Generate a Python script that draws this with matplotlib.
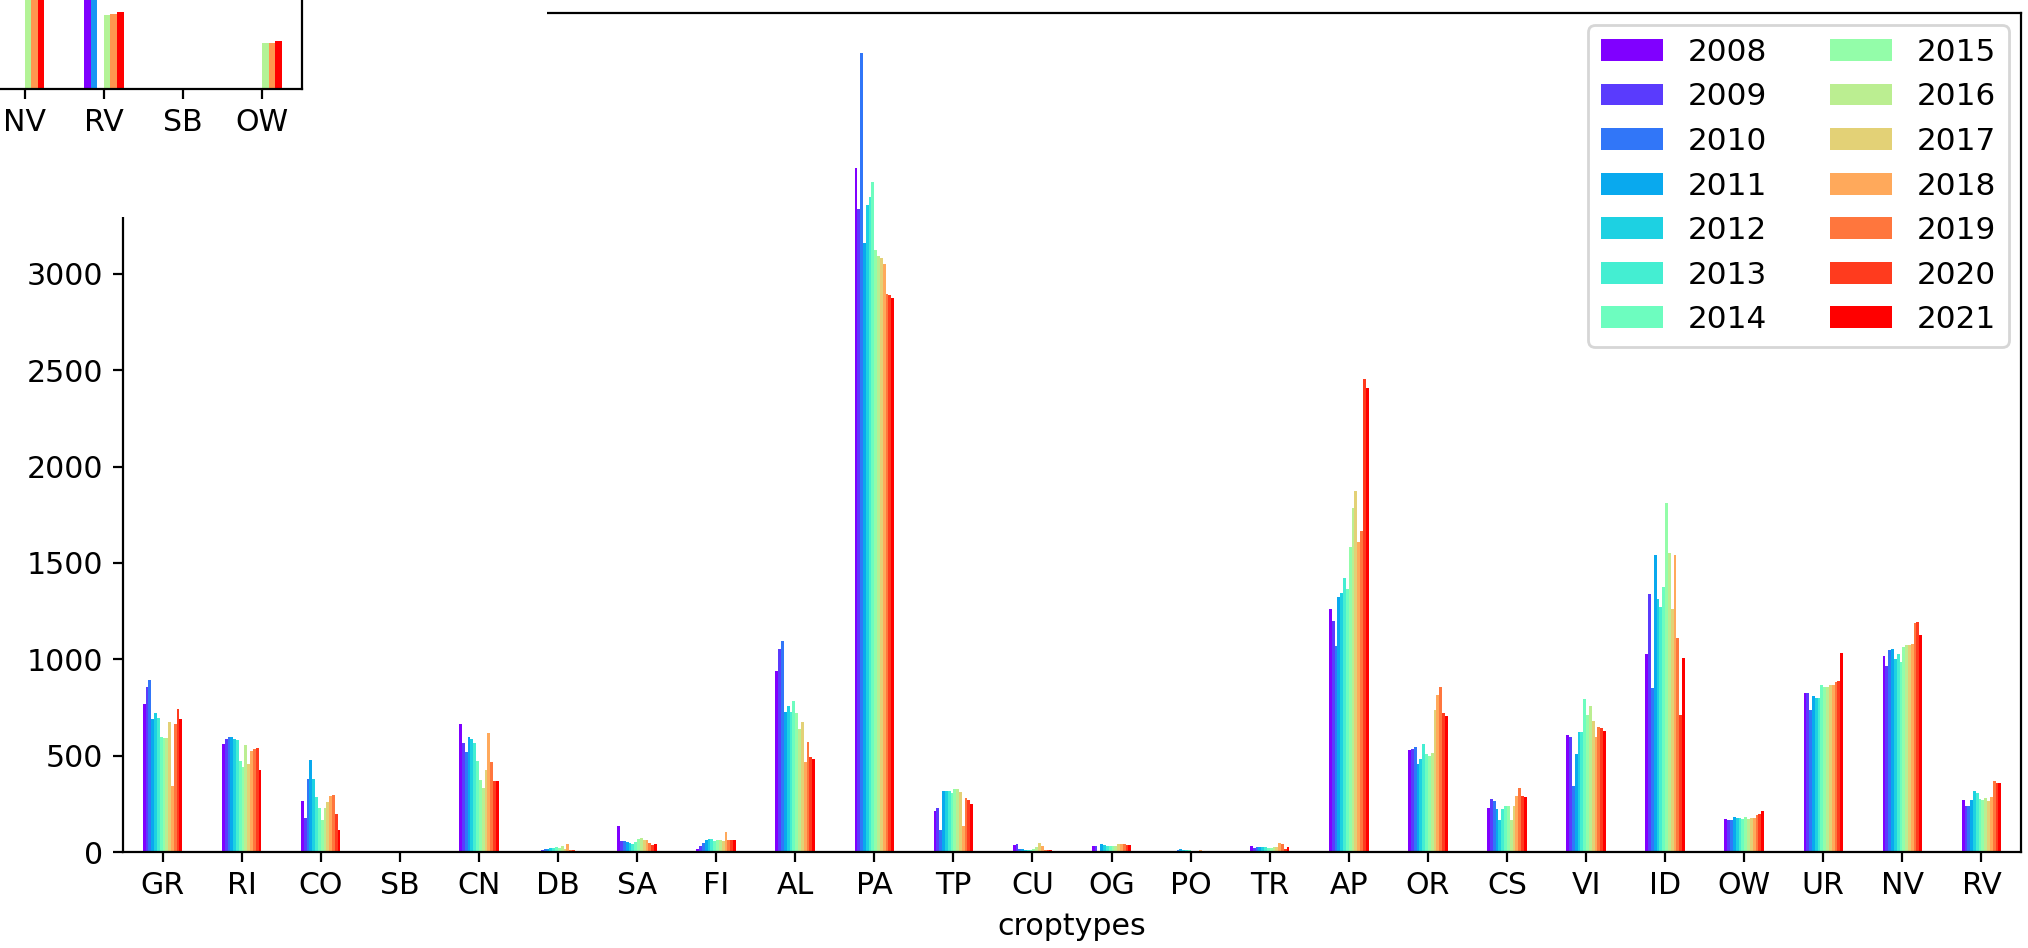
import matplotlib
matplotlib.use('Agg')
import matplotlib.pyplot as plt
import matplotlib.patches as mpatches
import numpy as np
import pandas as pd

# values per croptype, years 2008..2021
years = list(range(2008, 2022))
croptypes = ['GR', 'RI', 'CO', 'SB', 'CN', 'DB', 'SA', 'FI', 'AL', 'PA', 'TP', 'CU',
             'OG', 'PO', 'TR', 'AP', 'OR', 'CS', 'VI', 'ID', 'OW', 'UR', 'NV', 'RV']

GR = [769, 855, 891, 691, 722, 693, 599, 591, 591, 672, 345, 663, 744, 691]
RI = [558, 587, 598, 598, 587, 580, 473, 440, 554, 456, 523, 532, 541, 427]
CO = [266, 178, 380, 475, 380, 283, 230, 166, 230, 257, 288, 297, 197, 112]
SB = [0, 0, 0, 0, 0, 0, 0, 0, 0, 0, 0, 0, 0, 0]
CN = [663, 568, 520, 599, 584, 563, 471, 373, 333, 427, 615, 468, 368, 368]
DB = [5, 12, 14, 16, 19, 22, 26, 21, 31, 14, 43, 12, 9, 5]
SA = [133, 57, 59, 52, 48, 40, 54, 67, 74, 64, 64, 47, 38, 41]
FI = [15, 30, 45, 62, 70, 65, 55, 62, 60, 58, 102, 60, 60, 60]
AL = [938, 1053, 1097, 727, 760, 727, 784, 719, 636, 677, 469, 573, 494, 480]
PA = [3550, 3338, 4146, 3160, 3357, 3397, 3476, 3123, 3095, 3080, 3052, 2895, 2890, 2876]
TP = [214, 228, 116, 314, 318, 318, 306, 328, 326, 309, 133, 280, 268, 249]
CU = [35, 43, 16, 16, 10, 9, 10, 17, 24, 45, 33, 10, 10, 10]
OG = [33, 33, 0, 40, 36, 33, 31, 29, 33, 41, 43, 40, 35, 36]
PO = [2, 3, 9, 17, 10, 12, 10, 7, 5, 3, 9, 5, 3, 3]
TR = [29, 21, 28, 28, 26, 24, 22, 19, 26, 28, 45, 43, 17, 24]
AP = [1261, 1200, 1067, 1325, 1345, 1420, 1363, 1584, 1784, 1874, 1611, 1667, 2456, 2406]
OR = [530, 535, 544, 458, 480, 558, 506, 499, 513, 737, 817, 855, 722, 705]
CS = [230, 276, 264, 223, 168, 225, 240, 237, 168, 240, 288, 332, 290, 287]
VI = [608, 598, 345, 508, 622, 625, 794, 713, 756, 682, 599, 648, 641, 629]
ID = [1028, 1340, 851, 1542, 1313, 1271, 1375, 1813, 1553, 1259, 1542, 1111, 713, 1005]
OW = [169, 166, 164, 183, 178, 174, 171, 181, 171, 176, 176, 192, 199, 211]
UR = [824, 826, 737, 812, 798, 798, 865, 858, 858, 864, 864, 884, 886, 1035]
NV = [1019, 964, 1050, 1054, 1003, 1029, 986, 1066, 1076, 1076, 1079, 1187, 1192, 1126]
RV = [268, 238, 240, 268, 314, 304, 276, 271, 278, 264, 285, 368, 359, 359]

# the leftover panel peeking in at the top-left (only its bottom is visible)
inset_cats = ['NV', 'RV', 'SB', 'OW']
inset_NV = [0, 0, 0, 900, 900, 900]
inset_RV = [900, 900, 0, 386, 390, 400]
inset_SB = [0, 0, 0, 0, 0, 0]
inset_OW = [0, 0, 0, 237, 237, 247]

data = pd.DataFrame([GR, RI, CO, SB, CN, DB, SA, FI, AL, PA, TP, CU, OG, PO, TR,
                     AP, OR, CS, VI, ID, OW, UR, NV, RV],
                    index=croptypes, columns=years)
inset_data = pd.DataFrame([inset_NV, inset_RV, inset_SB, inset_OW], index=inset_cats)

plt.rcParams.update({'font.size': 10.8, 'legend.fontsize': 11.2})

fig = plt.figure(figsize=(10.14, 4.74), dpi=200)
ax = fig.add_axes([123 / 2028, 96 / 948, 1898 / 2028, 839 / 948])

x = np.arange(len(croptypes))
n = len(years)
width = 0.5 / n
colors = plt.cm.rainbow(np.linspace(0, 1, n))
for i, yr in enumerate(years):
    ax.bar(x + (i - (n - 1) / 2) * width, data[yr], width, color=colors[i], label=str(yr))

ax.set_xticks(x)
ax.set_xticklabels(croptypes)
ax.set_xlim(-0.5, len(croptypes) - 0.5)
ax.set_xlabel('croptypes')
ax.legend(loc='upper right', ncol=2, borderaxespad=0.4)

# white patch covering the corner where the other panel sits
fig.add_artist(mpatches.Rectangle((0, 1 - 217 / 948), 547 / 2028, 217 / 948,
                                  transform=fig.transFigure, facecolor='white',
                                  edgecolor='none', zorder=2))

# inset panel, mostly outside the canvas
px_per_unit = 0.193
h_px = 1000 * px_per_unit
ins = fig.add_axes([-200 / 2028, 1 - 89 / 948, 501.6 / 2028, h_px / 948], zorder=3)
m = inset_data.shape[1]
w2 = 0.5 / m
icolors = plt.cm.rainbow(np.linspace(0, 1, m))
xi = np.arange(len(inset_cats))
for j in range(m):
    ins.bar(xi + (j - (m - 1) / 2) * w2, inset_data[j], w2, color=icolors[j])
ins.set_xticks(xi)
ins.set_xticklabels(inset_cats)
ins.set_xlim(-0.5 - (200 + 24.9) / 79.2 + 0.5, len(inset_cats) - 0.5)
ins.set_ylim(0, 1000)
ins.set_yticks([])

fig.savefig('out.png', dpi=200)
